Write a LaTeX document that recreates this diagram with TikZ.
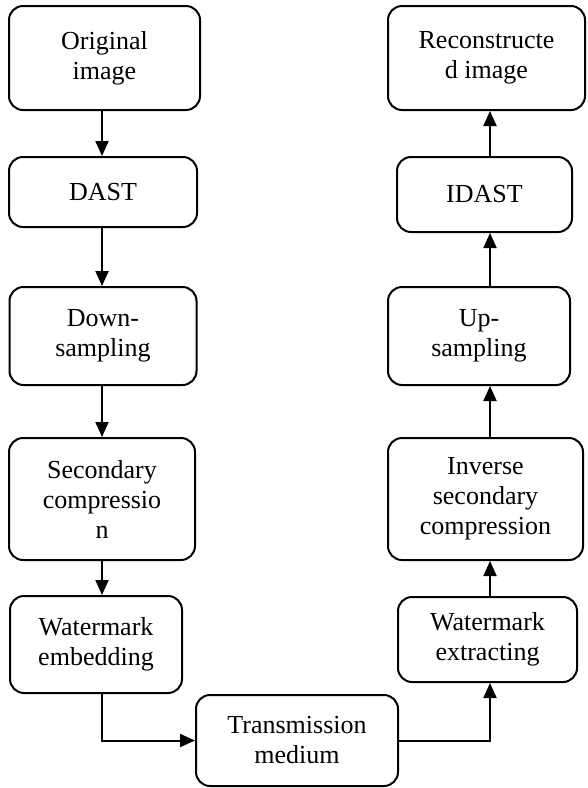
\documentclass[tikz,border=0pt]{standalone}
\usepackage{fontspec}
\setmainfont{Liberation Serif}
\usetikzlibrary{arrows.meta}
\begin{document}
\begin{tikzpicture}[x=1pt, y=-1pt,
        block/.style={draw, line width=2pt, rounded corners=14pt, inner sep=0pt,
            align=center, font=\fontsize{26}{30}\selectfont},
        flow/.style={-{Triangle[length=15pt, width=13pt]}, line width=2pt}]
        \useasboundingbox (0, 0) rectangle (587, 788);

        % left column
        \node[block, minimum width=191pt, minimum height=104pt] at (104.5, 58)   (orig)  {Original\\image};
        \node[block, minimum width=188pt, minimum height=70pt]  at (103, 192)    (dast)  {DAST};
        \node[block, minimum width=187pt, minimum height=98pt]  at (103, 336)    (down)  {Down-\\sampling};
        \node[block, minimum width=186pt, minimum height=122pt] at (102, 499)    (sec)   {Secondary\\compressio\\n};
        \node[block, minimum width=172pt, minimum height=97pt]  at (96, 644.5)   (emb)   {Watermark\\embedding};

        % bottom
        \node[block, minimum width=202pt, minimum height=91pt]  at (297, 740.5)  (trans) {Transmission\\medium};

        % right column
        \node[block, minimum width=179pt, minimum height=85pt]  at (487.5, 639.5) (ext)  {Watermark\\extracting};
        \node[block, minimum width=195pt, minimum height=122pt] at (485.5, 499)  (inv)   {Inverse\\secondary\\compression};
        \node[block, minimum width=182pt, minimum height=98pt]  at (479, 336)    (up)    {Up-\\sampling};
        \node[block, minimum width=175pt, minimum height=75pt]  at (484.5, 194.5) (idast) {IDAST};
        \node[block, minimum width=197pt, minimum height=104pt] at (486.5, 58)   (rec)   {Reconstructe\\d image};

        \coordinate (lx) at (102, 0);
        \coordinate (rx) at (490, 0);

        \draw[flow] (orig.south -| lx) -- (dast.north -| lx);
        \draw[flow] (dast.south -| lx) -- (down.north -| lx);
        \draw[flow] (down.south -| lx) -- (sec.north -| lx);
        \draw[flow] (sec.south -| lx)  -- (emb.north -| lx);
        \draw[flow] (emb.south -| lx)  |- (trans.west);

        \draw[flow] (trans.east) -| (ext.south -| rx);
        \draw[flow] (ext.north -| rx)   -- (inv.south -| rx);
        \draw[flow] (inv.north -| rx)   -- (up.south -| rx);
        \draw[flow] (up.north -| rx)    -- (idast.south -| rx);
        \draw[flow] (idast.north -| rx) -- (rec.south -| rx);

    \end{tikzpicture}
\end{document}
